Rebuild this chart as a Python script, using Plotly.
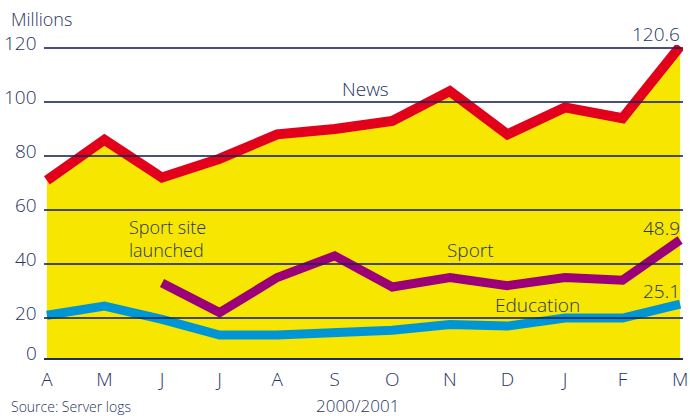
import plotly.graph_objects as go

months = ["A", "M", "J", "J", "A", "S", "O", "N", "D", "J", "F", "M"]
news = [71, 86, 72, 79, 88, 90, 93, 104, 88, 98, 94, 120.6]
sport = [None, None, 33, 22, 35, 43, 31.5, 35, 32, 35, 34, 48.9]
education = [21, 24.4, 19.5, 13.7, 13.7, 14.4, 15.5, 17.6, 17, 20, 20, 25.1]
grid_vals = [20, 40, 60, 80, 100, 120]
ytick_text = ["0", "20", "40", "60", "80", "100", "120"]

x = list(range(len(months)))
NAVY = "#1f2d5c"
TXT = "#27345f"
FONT = "Open Sans"
WEIGHT = 300
Y_BOTTOM, Y_TOP = 5.19, 121.1

fig = go.Figure()
fig.add_trace(go.Scatter(x=x, y=news, mode="lines", line=dict(width=0),
                         fill="tozeroy", fillcolor="#f6e600", hoverinfo="skip"))
fig.add_trace(go.Scatter(x=x, y=news, mode="lines", line=dict(color="#e2001a", width=10)))
fig.add_trace(go.Scatter(x=x, y=sport, mode="lines", line=dict(color="#9b0079", width=9)))
fig.add_trace(go.Scatter(x=x, y=education, mode="lines", line=dict(color="#0096d6", width=9)))

shapes = []
for g in grid_vals:
    shapes.append(dict(type="line", xref="paper", x0=0, x1=1, yref="y", y0=g, y1=g,
                       line=dict(color="rgba(25,36,85,0.8)", width=2), layer="above"))

ann = []
for v, t in zip([Y_BOTTOM] + grid_vals, ytick_text):
    ann.append(dict(xref="paper", x=0, yref="y", y=v, text=t, showarrow=False,
                    xanchor="right", yanchor="middle", xshift=-5, yshift=5,
                    font=dict(family=FONT, size=19, color=TXT, weight=WEIGHT)))

def lab(xpix, ypix, text, xanchor="center", size=19):
    # absolute pixel -> paper coords (plot area spans x 44..683, y 45..358)
    ann.append(dict(xref="paper", yref="paper", x=(xpix - 44) / 639,
                    y=(358 - ypix) / 313, text=text, showarrow=False,
                    xanchor=xanchor, yanchor="middle", align="left",
                    font=dict(family=FONT, size=size, color=TXT, weight=WEIGHT)))

lab(9, 19, "Millions", xanchor="left", size=18)
lab(365, 89, "News")
lab(682, 34, "120.6", xanchor="right")
lab(127, 238, "Sport site<br>launched", xanchor="left", size=18)
lab(470, 250, "Sport")
lab(682, 228, "48.9", xanchor="right")
lab(537, 305, "Education")
lab(682, 291, "25.1", xanchor="right")
lab(357, 405, "2000/2001", size=17)
lab(9, 406, "Source: Server logs", xanchor="left", size=14)

fig.update_layout(
    width=690, height=416,
    margin=dict(l=44, r=7, t=45, b=58, autoexpand=False),
    paper_bgcolor="white", plot_bgcolor="white",
    showlegend=False,
    shapes=shapes, annotations=ann,
    xaxis=dict(range=[-0.05, 11.05], tickvals=x, ticktext=months, showgrid=False,
               zeroline=False, showline=True, linecolor=NAVY, linewidth=2,
               ticks="", automargin=False,
               tickfont=dict(family=FONT, size=19, color=TXT, weight=WEIGHT),
               ticklabelstandoff=3),
    yaxis=dict(range=[Y_BOTTOM, Y_TOP], showgrid=False, zeroline=False,
               showticklabels=False, ticks="", automargin=False),
)
fig.write_html("out.html", config={"displayModeBar": False},
               post_script="document.body.style.margin='0';")
